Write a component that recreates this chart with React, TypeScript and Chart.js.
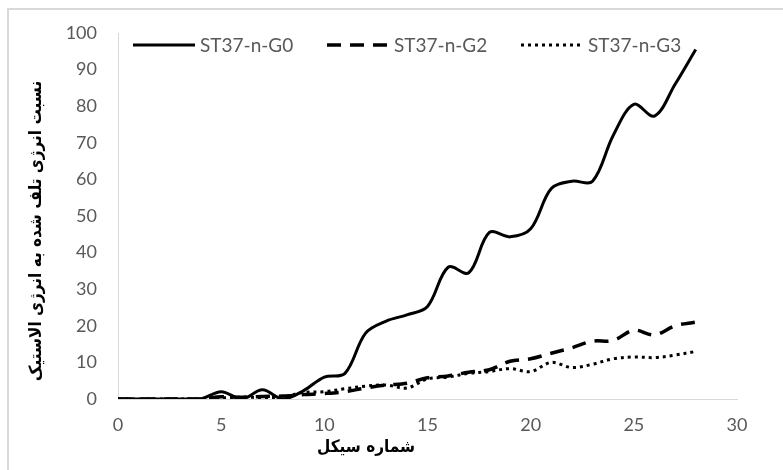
import { useEffect, useRef } from "react";
import { Chart, registerables } from "chart.js";

Chart.register(...registerables);

// Cycle numbers along the horizontal axis
const cycles = [0, 1, 2, 3, 4, 5, 6, 7, 8, 9, 10, 11, 12, 13, 14, 15, 16, 17, 18, 19, 20, 21, 22, 23, 24, 25, 26, 27, 28];

// Dissipated / elastic energy ratio per specimen
const seriesNames = ["ST37-n-G0", "ST37-n-G2", "ST37-n-G3"];
const g0 = [0, 0, 0, 0, 0, 2, 0, 2.5, 0, 2.3, 6, 7, 18, 21.3, 23, 25.3, 36, 34.5, 45.5, 44.3, 46.5, 57.5, 59.5, 59.5, 72, 80.5, 77.3, 86, 95.5];
const g2 = [0, 0, 0, 0, 0, 0.6, 0.5, 0.7, 0.8, 1.2, 1.5, 2, 3, 3.8, 4.3, 5.8, 6.3, 7.3, 8, 10.3, 11, 12.5, 14, 15.8, 16, 18.8, 17.5, 20, 21];
const g3 = [0, 0, 0, 0, 0, 0.3, 0.5, 0.4, 0.6, 1.8, 2, 2.8, 3.5, 3.8, 3, 5.5, 6, 7, 7.5, 8.3, 7.5, 10, 8.6, 9.5, 11, 11.5, 11.3, 12, 13];

const xTitle = "شماره سیکل";
const yTitle = "نسبت انرژی تلف شده به انرژی الاستیک";

const TICK_FONT = "Lato";
const TITLE_FONT = "'DejaVu Sans Condensed', 'DejaVu Sans'";

// Legend drawn inside the plot, across the top
const insideLegend = {
  id: "insideLegend",
  afterDraw(chart: any) {
    const ctx = chart.ctx as CanvasRenderingContext2D;
    const startX = 133;
    const y = 45;
    const stride = 194;
    const sample = 62;
    chart.data.datasets.forEach((ds: any, i: number) => {
      const x = startX + i * stride;
      ctx.save();
      ctx.strokeStyle = ds.borderColor;
      ctx.lineWidth = ds.borderWidth;
      ctx.setLineDash(ds.borderDash || []);
      ctx.beginPath();
      ctx.moveTo(x, y);
      ctx.lineTo(x + sample, y);
      ctx.stroke();
      ctx.setLineDash([]);
      ctx.fillStyle = "#595959";
      ctx.font = `19px ${TICK_FONT}`;
      ctx.textAlign = "left";
      ctx.textBaseline = "middle";
      ctx.fillText(ds.label, x + sample + 5, y + 1);
      ctx.restore();
    });
  },
};

// Axis titles
const axisTitles = {
  id: "axisTitles",
  afterDraw(chart: any) {
    const ctx = chart.ctx as CanvasRenderingContext2D;
    ctx.save();
    ctx.fillStyle = "#000000";
    ctx.font = `bold 17px ${TITLE_FONT}`;
    ctx.textAlign = "center";
    ctx.textBaseline = "middle";
    ctx.fillText(xTitle, 366, 448);
    ctx.translate(37, 231);
    ctx.rotate(-Math.PI / 2);
    ctx.fillText(yTitle, 0, 0);
    ctx.restore();
  },
};

export default function App() {
  const canvasRef = useRef<HTMLCanvasElement | null>(null);

  useEffect(() => {
    document.body.style.margin = "0";
    const canvas = canvasRef.current;
    if (!canvas) return;

    const toPoints = (vals: number[]) => cycles.map((c, i) => ({ x: c, y: vals[i] }));

    const chart = new Chart(canvas, {
      type: "line",
      data: {
        datasets: [
          {
            label: seriesNames[0],
            data: toPoints(g0),
            borderColor: "#000000",
            borderWidth: 3,
            borderDash: [],
            tension: 0.35,
            pointRadius: 0,
            fill: false,
          },
          {
            label: seriesNames[1],
            data: toPoints(g2),
            borderColor: "#000000",
            borderWidth: 3.5,
            borderDash: [14, 9],
            tension: 0.35,
            pointRadius: 0,
            fill: false,
          },
          {
            label: seriesNames[2],
            data: toPoints(g3),
            borderColor: "#000000",
            borderWidth: 3,
            borderDash: [3, 4],
            tension: 0.35,
            pointRadius: 0,
            fill: false,
          },
        ],
      },
      options: {
        responsive: false,
        animation: false,
        events: [],
        layout: { padding: { left: 0, right: 46, top: 33, bottom: 0 } },
        plugins: {
          legend: { display: false },
          tooltip: { enabled: false },
          title: { display: false },
        },
        scales: {
          x: {
            type: "linear",
            min: 0,
            max: 30,
            afterFit(scale: any) {
              scale.height = 71;
            },
            ticks: {
              stepSize: 5,
              color: "#595959",
              font: { family: TICK_FONT, size: 18 },
              padding: 15,
              maxRotation: 0,
            },
            grid: { display: false, drawTicks: false },
            border: { display: true, color: "#d9d9d9", width: 1 },
          },
          y: {
            type: "linear",
            min: 0,
            max: 100,
            afterFit(scale: any) {
              scale.width = 118;
            },
            ticks: {
              stepSize: 10,
              color: "#595959",
              font: { family: TICK_FONT, size: 18 },
              padding: 21,
            },
            grid: { display: false, drawTicks: false },
            border: { display: true, color: "#d9d9d9", width: 1 },
          },
        },
      },
      plugins: [insideLegend, axisTitles],
    });

    return () => chart.destroy();
  }, []);

  return (
    <div style={{ position: "relative", width: 783, height: 470, overflow: "hidden", background: "#ffffff" }}>
      <div
        style={{
          position: "absolute",
          left: 7,
          top: 8,
          width: 800,
          height: 500,
          borderTop: "2px solid #d9d9d9",
          borderLeft: "2px solid #d9d9d9",
          boxSizing: "border-box",
        }}
      />
      <canvas ref={canvasRef} width={783} height={470} style={{ position: "absolute", left: 0, top: 0, display: "block" }} />
    </div>
  );
}
